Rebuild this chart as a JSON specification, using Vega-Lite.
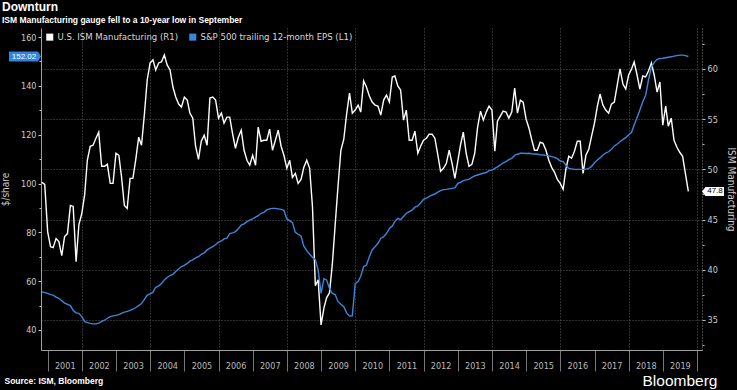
{
"$schema": "https://vega.github.io/schema/vega-lite/v6.json",
"width": 661, "height": 322,
"autosize": {"type": "none"},
"padding": {"left": 41, "top": 28, "right": 35, "bottom": 40},
"background": "black",
"title": {"text": "Downturn", "subtitle": "ISM Manufacturing gauge fell to a 10-year low in September", "anchor": "start", "frame": "group", "dx": -39, "offset": 3, "color": "white", "font": "Liberation Sans", "fontSize": 12, "fontWeight": "bold", "subtitleColor": "white", "subtitleFont": "Liberation Sans", "subtitleFontSize": 8.5, "subtitleFontWeight": "bold", "subtitlePadding": 2},
"datasets": {"m": [
{"d":"2000-10-31","ism":48.7,"eps":55.6},{"d":"2000-11-30","ism":48.5,"eps":55.3},{"d":"2000-12-31","ism":43.8,"eps":55.0},
{"d":"2001-01-31","ism":42.3,"eps":54.5},{"d":"2001-02-28","ism":42.2,"eps":54.3},{"d":"2001-03-31","ism":43.1,"eps":53.5},{"d":"2001-04-30","ism":42.8,"eps":53.0},{"d":"2001-05-31","ism":41.4,"eps":52.0},{"d":"2001-06-30","ism":43.3,"eps":51.0},{"d":"2001-07-31","ism":43.6,"eps":50.5},{"d":"2001-08-31","ism":46.4,"eps":50.0},{"d":"2001-09-30","ism":46.3,"eps":48.0},{"d":"2001-10-31","ism":40.8,"eps":47.0},{"d":"2001-11-30","ism":44.5,"eps":46.8},{"d":"2001-12-31","ism":45.6,"eps":45.5},
{"d":"2002-01-31","ism":47.5,"eps":43.5},{"d":"2002-02-28","ism":50.9,"eps":43.0},{"d":"2002-03-31","ism":52.3,"eps":42.7},{"d":"2002-04-30","ism":52.4,"eps":42.5},{"d":"2002-05-31","ism":53.1,"eps":42.5},{"d":"2002-06-30","ism":53.7,"eps":42.8},{"d":"2002-07-31","ism":50.3,"eps":43.5},{"d":"2002-08-31","ism":50.3,"eps":44.0},{"d":"2002-09-30","ism":50.5,"eps":44.8},{"d":"2002-10-31","ism":48.6,"eps":45.5},{"d":"2002-11-30","ism":48.6,"eps":45.8},{"d":"2002-12-31","ism":51.6,"eps":46.0},
{"d":"2003-01-31","ism":51.4,"eps":46.3},{"d":"2003-02-28","ism":49.3,"eps":46.8},{"d":"2003-03-31","ism":46.4,"eps":47.3},{"d":"2003-04-30","ism":46.1,"eps":47.6},{"d":"2003-05-31","ism":49.1,"eps":48.0},{"d":"2003-06-30","ism":49.1,"eps":48.5},{"d":"2003-07-31","ism":51.0,"eps":49.2},{"d":"2003-08-31","ism":53.2,"eps":50.0},{"d":"2003-09-30","ism":52.4,"eps":50.8},{"d":"2003-10-31","ism":55.5,"eps":52.5},{"d":"2003-11-30","ism":58.9,"eps":54.3},{"d":"2003-12-31","ism":60.6,"eps":54.8},
{"d":"2004-01-31","ism":60.9,"eps":55.5},{"d":"2004-02-29","ism":59.9,"eps":57.5},{"d":"2004-03-31","ism":60.6,"eps":58.0},{"d":"2004-04-30","ism":60.7,"eps":59.0},{"d":"2004-05-31","ism":61.4,"eps":60.5},{"d":"2004-06-30","ism":60.4,"eps":61.5},{"d":"2004-07-31","ism":59.9,"eps":62.3},{"d":"2004-08-31","ism":58.2,"eps":62.8},{"d":"2004-09-30","ism":57.2,"eps":64.0},{"d":"2004-10-31","ism":56.5,"eps":65.0},{"d":"2004-11-30","ism":56.2,"eps":66.0},{"d":"2004-12-31","ism":57.2,"eps":66.5},
{"d":"2005-01-31","ism":56.9,"eps":67.3},{"d":"2005-02-28","ism":55.6,"eps":68.2},{"d":"2005-03-31","ism":55.1,"eps":68.7},{"d":"2005-04-30","ism":52.3,"eps":69.5},{"d":"2005-05-31","ism":51.0,"eps":70.0},{"d":"2005-06-30","ism":52.8,"eps":71.0},{"d":"2005-07-31","ism":53.4,"eps":71.6},{"d":"2005-08-31","ism":52.4,"eps":72.8},{"d":"2005-09-30","ism":57.1,"eps":73.5},{"d":"2005-10-31","ism":57.2,"eps":74.1},{"d":"2005-11-30","ism":56.9,"eps":75.0},{"d":"2005-12-31","ism":55.1,"eps":76.0},
{"d":"2006-01-31","ism":55.6,"eps":76.5},{"d":"2006-02-28","ism":54.6,"eps":77.3},{"d":"2006-03-31","ism":55.2,"eps":77.6},{"d":"2006-04-30","ism":55.2,"eps":79.5},{"d":"2006-05-31","ism":53.5,"eps":79.8},{"d":"2006-06-30","ism":52.1,"eps":80.3},{"d":"2006-07-31","ism":53.2,"eps":81.5},{"d":"2006-08-31","ism":53.9,"eps":83.0},{"d":"2006-09-30","ism":51.9,"eps":83.5},{"d":"2006-10-31","ism":50.9,"eps":84.4},{"d":"2006-11-30","ism":50.4,"eps":85.0},{"d":"2006-12-31","ism":51.4,"eps":85.5},
{"d":"2007-01-31","ism":50.4,"eps":86.2},{"d":"2007-02-28","ism":54.2,"eps":86.8},{"d":"2007-03-31","ism":52.8,"eps":87.8},{"d":"2007-04-30","ism":52.9,"eps":88.2},{"d":"2007-05-31","ism":52.9,"eps":89.2},{"d":"2007-06-30","ism":54.0,"eps":89.6},{"d":"2007-07-31","ism":51.9,"eps":89.8},{"d":"2007-08-31","ism":52.9,"eps":89.8},{"d":"2007-09-30","ism":53.9,"eps":89.6},{"d":"2007-10-31","ism":52.3,"eps":89.4},{"d":"2007-11-30","ism":51.4,"eps":89.0},{"d":"2007-12-31","ism":50.1,"eps":85.5},
{"d":"2008-01-31","ism":50.9,"eps":84.8},{"d":"2008-02-29","ism":49.2,"eps":84.0},{"d":"2008-03-31","ism":49.6,"eps":80.0},{"d":"2008-04-30","ism":48.6,"eps":79.2},{"d":"2008-05-31","ism":49.0,"eps":78.5},{"d":"2008-06-30","ism":50.2,"eps":74.3},{"d":"2008-07-31","ism":50.9,"eps":72.5},{"d":"2008-08-31","ism":50.1,"eps":71.0},{"d":"2008-09-30","ism":46.3,"eps":69.8},{"d":"2008-10-31","ism":38.4,"eps":68.8},{"d":"2008-11-30","ism":39.0,"eps":64.5},{"d":"2008-12-31","ism":34.5,"eps":55.0},
{"d":"2009-01-31","ism":36.2,"eps":61.0},{"d":"2009-02-28","ism":37.2,"eps":60.5},{"d":"2009-03-31","ism":37.7,"eps":57.0},{"d":"2009-04-30","ism":40.5,"eps":55.0},{"d":"2009-05-31","ism":44.5,"eps":54.5},{"d":"2009-06-30","ism":48.3,"eps":51.6},{"d":"2009-07-31","ism":51.9,"eps":50.5},{"d":"2009-08-31","ism":53.0,"eps":49.5},{"d":"2009-09-30","ism":55.5,"eps":47.0},{"d":"2009-10-31","ism":57.6,"eps":45.7},{"d":"2009-11-30","ism":55.6,"eps":45.8},{"d":"2009-12-31","ism":55.9,"eps":59.0},
{"d":"2010-01-31","ism":56.4,"eps":59.8},{"d":"2010-02-28","ism":55.7,"eps":62.0},{"d":"2010-03-31","ism":58.8,"eps":66.0},{"d":"2010-04-30","ism":58.2,"eps":66.6},{"d":"2010-05-31","ism":57.3,"eps":70.0},{"d":"2010-06-30","ism":56.7,"eps":72.8},{"d":"2010-07-31","ism":56.4,"eps":74.1},{"d":"2010-08-31","ism":56.3,"eps":75.5},{"d":"2010-09-30","ism":55.4,"eps":77.5},{"d":"2010-10-31","ism":56.9,"eps":78.2},{"d":"2010-11-30","ism":57.4,"eps":79.5},{"d":"2010-12-31","ism":56.7,"eps":81.6},
{"d":"2011-01-31","ism":59.2,"eps":82.6},{"d":"2011-02-28","ism":59.3,"eps":84.5},{"d":"2011-03-31","ism":58.3,"eps":85.7},{"d":"2011-04-30","ism":57.9,"eps":85.2},{"d":"2011-05-31","ism":54.9,"eps":86.5},{"d":"2011-06-30","ism":55.9,"eps":87.8},{"d":"2011-07-31","ism":52.9,"eps":88.5},{"d":"2011-08-31","ism":52.9,"eps":89.1},{"d":"2011-09-30","ism":53.8,"eps":90.3},{"d":"2011-10-31","ism":51.6,"eps":90.8},{"d":"2011-11-30","ism":52.3,"eps":92.0},{"d":"2011-12-31","ism":52.9,"eps":93.5},
{"d":"2012-01-31","ism":53.1,"eps":94.0},{"d":"2012-02-29","ism":53.5,"eps":94.6},{"d":"2012-03-31","ism":53.5,"eps":95.3},{"d":"2012-04-30","ism":53.1,"eps":95.7},{"d":"2012-05-31","ism":51.5,"eps":96.5},{"d":"2012-06-30","ism":49.8,"eps":97.1},{"d":"2012-07-31","ism":50.1,"eps":97.5},{"d":"2012-08-31","ism":50.6,"eps":97.6},{"d":"2012-09-30","ism":51.9,"eps":97.8},{"d":"2012-10-31","ism":50.6,"eps":98.0},{"d":"2012-11-30","ism":49.1,"eps":98.2},{"d":"2012-12-31","ism":50.8,"eps":100.1},
{"d":"2013-01-31","ism":52.5,"eps":100.5},{"d":"2013-02-28","ism":53.7,"eps":101.2},{"d":"2013-03-31","ism":51.6,"eps":101.5},{"d":"2013-04-30","ism":50.3,"eps":101.7},{"d":"2013-05-31","ism":50.5,"eps":102.5},{"d":"2013-06-30","ism":51.6,"eps":103.1},{"d":"2013-07-31","ism":54.2,"eps":103.5},{"d":"2013-08-31","ism":55.8,"eps":103.9},{"d":"2013-09-30","ism":54.9,"eps":104.2},{"d":"2013-10-31","ism":55.7,"eps":104.5},{"d":"2013-11-30","ism":56.3,"eps":105.3},{"d":"2013-12-31","ism":55.9,"eps":105.5},
{"d":"2014-01-31","ism":51.8,"eps":106.2},{"d":"2014-02-28","ism":54.8,"eps":106.8},{"d":"2014-03-31","ism":55.3,"eps":107.6},{"d":"2014-04-30","ism":55.8,"eps":108.5},{"d":"2014-05-31","ism":55.7,"eps":109.0},{"d":"2014-06-30","ism":55.1,"eps":109.8},{"d":"2014-07-31","ism":55.7,"eps":110.3},{"d":"2014-08-31","ism":58.1,"eps":111.5},{"d":"2014-09-30","ism":55.6,"eps":112.0},{"d":"2014-10-31","ism":56.9,"eps":112.4},{"d":"2014-11-30","ism":56.7,"eps":112.4},{"d":"2014-12-31","ism":55.0,"eps":112.3},
{"d":"2015-01-31","ism":54.1,"eps":112.4},{"d":"2015-02-28","ism":53.0,"eps":112.2},{"d":"2015-03-31","ism":51.9,"eps":112.1},{"d":"2015-04-30","ism":51.9,"eps":112.0},{"d":"2015-05-31","ism":52.7,"eps":111.8},{"d":"2015-06-30","ism":52.6,"eps":111.7},{"d":"2015-07-31","ism":51.9,"eps":111.5},{"d":"2015-08-31","ism":50.9,"eps":111.3},{"d":"2015-09-30","ism":50.2,"eps":111.0},{"d":"2015-10-31","ism":49.7,"eps":110.7},{"d":"2015-11-30","ism":49.0,"eps":110.2},{"d":"2015-12-31","ism":48.6,"eps":109.2},
{"d":"2016-01-31","ism":48.0,"eps":109.0},{"d":"2016-02-29","ism":50.0,"eps":107.5},{"d":"2016-03-31","ism":51.3,"eps":106.2},{"d":"2016-04-30","ism":51.1,"eps":106.0},{"d":"2016-05-31","ism":51.8,"eps":105.8},{"d":"2016-06-30","ism":52.8,"eps":105.8},{"d":"2016-07-31","ism":52.8,"eps":105.8},{"d":"2016-08-31","ism":49.6,"eps":105.8},{"d":"2016-09-30","ism":51.4,"eps":105.9},{"d":"2016-10-31","ism":52.0,"eps":106.2},{"d":"2016-11-30","ism":53.3,"eps":107.0},{"d":"2016-12-31","ism":54.6,"eps":108.5},
{"d":"2017-01-31","ism":56.3,"eps":109.6},{"d":"2017-02-28","ism":57.5,"eps":110.5},{"d":"2017-03-31","ism":56.4,"eps":111.7},{"d":"2017-04-30","ism":55.9,"eps":112.5},{"d":"2017-05-31","ism":55.6,"eps":113.0},{"d":"2017-06-30","ism":56.5,"eps":114.0},{"d":"2017-07-31","ism":56.7,"eps":115.4},{"d":"2017-08-31","ism":58.4,"eps":116.2},{"d":"2017-09-30","ism":60.0,"eps":117.1},{"d":"2017-10-31","ism":58.5,"eps":118.0},{"d":"2017-11-30","ism":58.0,"eps":118.8},{"d":"2017-12-31","ism":59.4,"eps":119.9},
{"d":"2018-01-31","ism":60.0,"eps":121.0},{"d":"2018-02-28","ism":60.7,"eps":124.0},{"d":"2018-03-31","ism":59.4,"eps":127.0},{"d":"2018-04-30","ism":58.0,"eps":130.1},{"d":"2018-05-31","ism":59.3,"eps":133.5},{"d":"2018-06-30","ism":59.2,"eps":136.0},{"d":"2018-07-31","ism":59.8,"eps":142.4},{"d":"2018-08-31","ism":60.6,"eps":147.8},{"d":"2018-09-30","ism":59.4,"eps":149.5},{"d":"2018-10-31","ism":57.7,"eps":150.9},{"d":"2018-11-30","ism":58.7,"eps":151.2},{"d":"2018-12-31","ism":54.4,"eps":151.3},
{"d":"2019-01-31","ism":56.3,"eps":151.5},{"d":"2019-02-28","ism":54.3,"eps":151.7},{"d":"2019-03-31","ism":55.1,"eps":151.9},{"d":"2019-04-30","ism":52.9,"eps":152.2},{"d":"2019-05-31","ism":52.2,"eps":152.4},{"d":"2019-06-30","ism":51.7,"eps":152.6},{"d":"2019-07-31","ism":51.3,"eps":152.6},{"d":"2019-08-31","ism":49.5,"eps":152.4},{"d":"2019-09-30","ism":47.8,"eps":152.02}
]},
"layer": [
{
 "data": {"name": "m"},
 "mark": {"type": "line", "strokeOpacity": 0},
 "encoding": {
  "x": {"field": "d", "type": "temporal",
    "scale": {"domain": [{"year": 2000, "month": 10, "date": 21}, {"year": 2020, "month": 2, "date": 23}], "nice": false},
    "axis": {"orient": "top", "tickCount": 100, "values": [{"year": 2002}, {"year": 2004}, {"year": 2006}, {"year": 2008}, {"year": 2010}, {"year": 2012}, {"year": 2014}, {"year": 2016}, {"year": 2018}, {"year": 2020}],
      "grid": true, "gridColor": "#5c5c5c", "gridDash": [1, 2], "gridWidth": 1,
      "domain": false, "ticks": false, "labels": false,
      "title": "Bloomberg", "titleColor": "white", "titleFont": "Liberation Sans", "titleFontSize": 15.5, "titleFontWeight": "normal",
      "titleAnchor": "end", "titleAlign": "right", "titleBaseline": "alphabetic", "titleX": 676, "titleY": 357}},
  "y": {"field": "ism", "type": "quantitative",
    "scale": {"domain": [32.0, 64.08], "nice": false, "zero": false},
    "axis": null}
 }
},
{
 "layer": [
  {
   "data": {"name": "m"},
   "mark": {"type": "line", "strokeWidth": 1.4},
   "encoding": {
    "x": {"field": "d", "type": "temporal",
      "scale": {"domain": [{"year": 2000, "month": 10, "date": 21}, {"year": 2020, "month": 2, "date": 23}], "nice": false},
      "axis": null},
    "y": {"field": "ism", "type": "quantitative",
      "scale": {"domain": [32.0, 64.08], "nice": false, "zero": false},
      "axis": {"orient": "right", "tickCount": 100, "values": [32.5,35,37.5,40,42.5,45,47.5,50,52.5,55,57.5,60,62.5],
        "labelExpr": "datum.value % 5 === 0 ? datum.label : ''", "format": "d",
        "tickSize": {"condition": {"test": "datum.value % 5 === 0", "value": 3}, "value": 2},
        "tickColor": "#bbbbbb",
        "grid": true, "gridColor": "#5c5c5c", "gridDash": [1, 2], "gridWidth": 1,
        "gridOpacity": {"condition": {"test": "datum.value % 5 === 0", "value": 1}, "value": 0},
        "domainColor": "#8a8a8a", "domainDash": [1, 2],
        "labelColor": "#cccccc", "labelFontSize": 9, "labelPadding": 2,
        "title": "ISM Manufacturing", "titleColor": "#cccccc", "titleFontSize": 10, "titleFontWeight": "normal", "titlePadding": 8}},
    "color": {"datum": "U.S. ISM Manufacturing (R1)", "type": "nominal",
      "scale": {"domain": ["U.S. ISM Manufacturing (R1)", "S&P 500 trailing 12-month EPS (L1)"], "range": ["#ffffff", "#3a86dc"]},
      "legend": {"title": null, "orient": "top-left", "direction": "horizontal", "offset": 4, "padding": 0,
        "symbolType": "square", "symbolSize": 50, "symbolStrokeWidth": 0,
        "labelColor": "#d8d8d8", "labelFontSize": 9.5, "labelOffset": 3, "columnPadding": 9,
        "encode": {"symbols": {"update": {"fill": {"scale": "color", "field": "value"}, "stroke": {"value": "transparent"}}}}}}
   }
  },
  {
   "data": {"values": [{}]},
   "mark": {"type": "point", "shape": "M 0 0 L 0.35 -0.45 L 2.2 -0.45 L 2.2 0.45 L 0.35 0.45 Z", "size": 400, "filled": true, "color": "#ffffff", "opacity": 1, "strokeWidth": 0},
   "encoding": {"x": {"datum": {"year": 2020, "month": 2, "date": 23}, "type": "temporal"}, "y": {"datum": 47.8, "type": "quantitative"}}
  },
  {
   "data": {"values": [{}]},
   "mark": {"type": "text", "text": "47.8", "dx": 13, "align": "center", "baseline": "middle", "fontSize": 8, "color": "#000000"},
   "encoding": {"x": {"datum": {"year": 2020, "month": 2, "date": 23}, "type": "temporal"}, "y": {"datum": 47.8, "type": "quantitative"}}
  }
 ]
},
{
 "layer": [
  {
   "data": {"name": "m"},
   "mark": {"type": "line", "strokeWidth": 1.4},
   "encoding": {
    "x": {"field": "d", "type": "temporal",
      "scale": {"domain": [{"year": 2000, "month": 10, "date": 21}, {"year": 2020, "month": 2, "date": 23}], "nice": false},
      "axis": {"orient": "bottom", "tickCount": 100, "values": [{"year": 2001}, {"year": 2002}, {"year": 2003}, {"year": 2004}, {"year": 2005}, {"year": 2006}, {"year": 2007}, {"year": 2008}, {"year": 2009}, {"year": 2010}, {"year": 2011}, {"year": 2012}, {"year": 2013}, {"year": 2014}, {"year": 2015}, {"year": 2016}, {"year": 2017}, {"year": 2018}, {"year": 2019}, {"year": 2020}],
        "format": "%Y", "labelExpr": "year(datum.value) >= 2020 ? '' : datum.label",
        "grid": false, "tickSize": 21, "tickColor": "#777777", "domainColor": "#a0a0a0",
        "labelColor": "#bbbbbb", "labelFontSize": 9, "labelOffset": 17, "labelPadding": -10, "labelAlign": "center", "labelFlush": false, "labelOverlap": false,
        "title": "Source: ISM, Bloomberg", "titleColor": "white", "titleFont": "Liberation Sans", "titleFontSize": 8.5, "titleFontWeight": "bold",
        "titleAnchor": "start", "titleAlign": "left", "titleBaseline": "alphabetic", "titleX": -37, "titleY": 33}},
    "y": {"field": "eps", "type": "quantitative",
      "scale": {"domain": [31.8, 163.7], "nice": false, "zero": false},
      "axis": {"orient": "left", "tickCount": 100, "values": [40,50,60,70,80,90,100,110,120,130,140,150,160],
        "labelExpr": "datum.value % 20 === 0 ? datum.label : ''", "labelOverlap": false,
        "tickSize": {"condition": {"test": "datum.value % 20 === 0", "value": 3}, "value": 2},
        "tickColor": "#cccccc", "grid": false, "domainColor": "#a0a0a0",
        "labelColor": "#cccccc", "labelFontSize": 9, "labelPadding": 2,
        "title": "$/share", "titleColor": "#cccccc", "titleFontSize": 10, "titleFontWeight": "normal", "titlePadding": 10}},
    "color": {"datum": "S&P 500 trailing 12-month EPS (L1)", "type": "nominal"}
   }
  },
  {
   "data": {"values": [{}]},
   "mark": {"type": "point", "shape": "M 0 0 L -0.3 -0.5 L -3.2 -0.5 L -3.2 0.5 L -0.3 0.5 Z", "size": 400, "filled": true, "color": "#2f86e0", "opacity": 1, "strokeWidth": 0},
   "encoding": {"x": {"datum": {"year": 2000, "month": 10, "date": 21}, "type": "temporal"}, "y": {"datum": 152.02, "type": "quantitative"}}
  },
  {
   "data": {"values": [{}]},
   "mark": {"type": "text", "text": "152.02", "dx": -17, "align": "center", "baseline": "middle", "fontSize": 8, "color": "#ffffff"},
   "encoding": {"x": {"datum": {"year": 2000, "month": 10, "date": 21}, "type": "temporal"}, "y": {"datum": 152.02, "type": "quantitative"}}
  }
 ]
}
],
"resolve": {"scale": {"x": "independent", "y": "independent"}},
"config": {
 "view": {"stroke": null},
 "axis": {"labelOverlap": false, "labelFont": "Liberation Sans Narrow, DejaVu Sans Condensed, Liberation Sans, sans-serif", "titleFont": "Liberation Sans Narrow, DejaVu Sans Condensed, Liberation Sans, sans-serif"},
 "legend": {"labelFont": "Liberation Sans Narrow, DejaVu Sans Condensed, Liberation Sans, sans-serif"}
}
}
